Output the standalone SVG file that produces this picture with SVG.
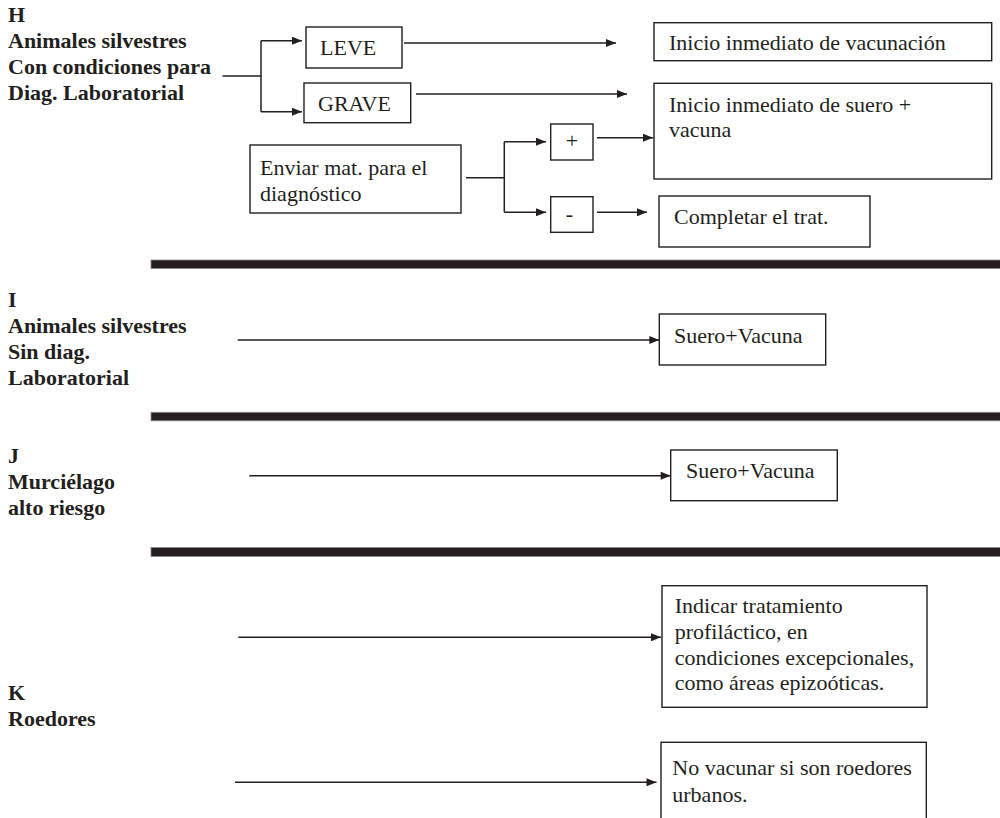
<svg xmlns="http://www.w3.org/2000/svg" width="1000" height="818" viewBox="0 0 1000 818">
  <style>
    .bg { fill: #ffffff; }
    .box { fill: #ffffff; stroke: #231f20; stroke-width: 1.4; }
    .txt { font-family: "Liberation Serif", "Times New Roman", serif; font-size: 22px; fill: #231f20; }
    .lbl { font-family: "Liberation Serif", "Times New Roman", serif; font-size: 22px; font-weight: bold; fill: #231f20; }
    .conn { fill: none; stroke: #231f20; stroke-width: 1.5; }
    .bar { fill: #231f20; stroke: #8a8a8a; stroke-width: 0.8; }
  </style>
  <defs>
    <marker id="arrow" viewBox="0 0 10 8" refX="10" refY="4" markerWidth="11" markerHeight="8" markerUnits="userSpaceOnUse" orient="auto">
      <path d="M0,0 L10,4 L0,8 Z" fill="#231f20"/>
    </marker>
  </defs>

  <rect class="bg" x="0" y="0" width="1000" height="818"/>

  <!-- section separators -->
  <g id="separators">
    <rect class="bar" x="151" y="260" width="850" height="8.5"/>
    <rect class="bar" x="151" y="412.3" width="850" height="8.5"/>
    <rect class="bar" x="151" y="547.5" width="850" height="9"/>
  </g>

  <!-- section headings -->
  <g id="label-h">
    <text class="lbl" x="8" y="22">H</text>
    <text class="lbl" x="8" y="48">Animales silvestres</text>
    <text class="lbl" x="8" y="74">Con condiciones para</text>
    <text class="lbl" x="8" y="100">Diag. Laboratorial</text>
  </g>
  <g id="label-i">
    <text class="lbl" x="8" y="306.5">I</text>
    <text class="lbl" x="8" y="332.5">Animales silvestres</text>
    <text class="lbl" x="8" y="358.5">Sin diag.</text>
    <text class="lbl" x="8" y="384.5">Laboratorial</text>
  </g>
  <g id="label-j">
    <text class="lbl" x="8" y="462.5">J</text>
    <text class="lbl" x="8" y="488.5">Murciélago</text>
    <text class="lbl" x="8" y="514.5">alto riesgo</text>
  </g>
  <g id="label-k">
    <text class="lbl" x="8" y="700">K</text>
    <text class="lbl" x="8" y="726">Roedores</text>
  </g>

  <!-- connectors -->
  <g id="connectors">
    <path class="conn" d="M222.5,76 H261 M261,40.7 V111.7"/>
    <path class="conn" d="M261,40.7 H302" marker-end="url(#arrow)"/>
    <path class="conn" d="M261,111.7 H302" marker-end="url(#arrow)"/>
    <path class="conn" d="M404,43 H616" marker-end="url(#arrow)"/>
    <path class="conn" d="M416,94 H627" marker-end="url(#arrow)"/>
    <path class="conn" d="M466,177.7 H504.3 M504.3,141.7 V212.3"/>
    <path class="conn" d="M504.3,141.7 H546" marker-end="url(#arrow)"/>
    <path class="conn" d="M504.3,212.3 H546" marker-end="url(#arrow)"/>
    <path class="conn" d="M597,137.7 H653" marker-end="url(#arrow)"/>
    <path class="conn" d="M597,212.3 H647" marker-end="url(#arrow)"/>
    <path class="conn" d="M237.7,340 H659.3" marker-end="url(#arrow)"/>
    <path class="conn" d="M249.3,475.7 H670.7" marker-end="url(#arrow)"/>
    <path class="conn" d="M238.3,637.3 H661" marker-end="url(#arrow)"/>
    <path class="conn" d="M235,782.3 H656.5" marker-end="url(#arrow)"/>
  </g>

  <!-- H section nodes -->
  <g id="node-leve">
    <rect class="box" x="306" y="27" width="96" height="41"/>
    <text class="txt" x="320" y="55">LEVE</text>
  </g>
  <g id="node-grave">
    <rect class="box" x="304" y="83" width="106.7" height="39.7"/>
    <text class="txt" x="318" y="111">GRAVE</text>
  </g>
  <g id="node-vacunacion">
    <rect class="box" x="654" y="22.7" width="337.7" height="38"/>
    <text class="txt" x="669" y="50">Inicio inmediato de vacunación</text>
  </g>
  <g id="node-suero-vacuna">
    <rect class="box" x="654" y="83.3" width="337.7" height="95.7"/>
    <text class="txt" x="669" y="112">Inicio inmediato de suero +</text>
    <text class="txt" x="669" y="137">vacuna</text>
  </g>
  <g id="node-enviar">
    <rect class="box" x="250" y="145" width="211" height="68"/>
    <text class="txt" x="260" y="175">Enviar mat. para el</text>
    <text class="txt" x="260" y="200.5">diagnóstico</text>
  </g>
  <g id="node-positivo">
    <rect class="box" x="550.7" y="124" width="42.3" height="36"/>
    <text class="txt" x="572" y="148" text-anchor="middle">+</text>
  </g>
  <g id="node-negativo">
    <rect class="box" x="550.7" y="196.7" width="42.3" height="35.6"/>
    <text class="txt" x="569.5" y="221" text-anchor="middle">-</text>
  </g>
  <g id="node-completar">
    <rect class="box" x="659" y="196" width="211" height="51"/>
    <text class="txt" x="674" y="224">Completar el trat.</text>
  </g>

  <!-- I section node -->
  <g id="node-i-suero">
    <rect class="box" x="659.3" y="314" width="166.4" height="51"/>
    <text class="txt" x="674" y="343.3">Suero+Vacuna</text>
  </g>

  <!-- J section node -->
  <g id="node-j-suero">
    <rect class="box" x="670.7" y="450" width="166.6" height="50.7"/>
    <text class="txt" x="686" y="478.3">Suero+Vacuna</text>
  </g>

  <!-- K section nodes -->
  <g id="node-k-profilactico">
    <rect class="box" x="662" y="585.7" width="265" height="121.6"/>
    <text class="txt" x="674.7" y="612.7">Indicar tratamiento</text>
    <text class="txt" x="674.7" y="639">profiláctico, en</text>
    <text class="txt" x="674.7" y="664.7">condiciones excepcionales,</text>
    <text class="txt" x="674.7" y="690">como áreas epizoóticas.</text>
  </g>
  <g id="node-k-urbanos">
    <rect class="box" x="661" y="742.3" width="265.3" height="90"/>
    <text class="txt" x="672.3" y="775">No vacunar si son roedores</text>
    <text class="txt" x="672.3" y="801.7">urbanos.</text>
  </g>
</svg>
